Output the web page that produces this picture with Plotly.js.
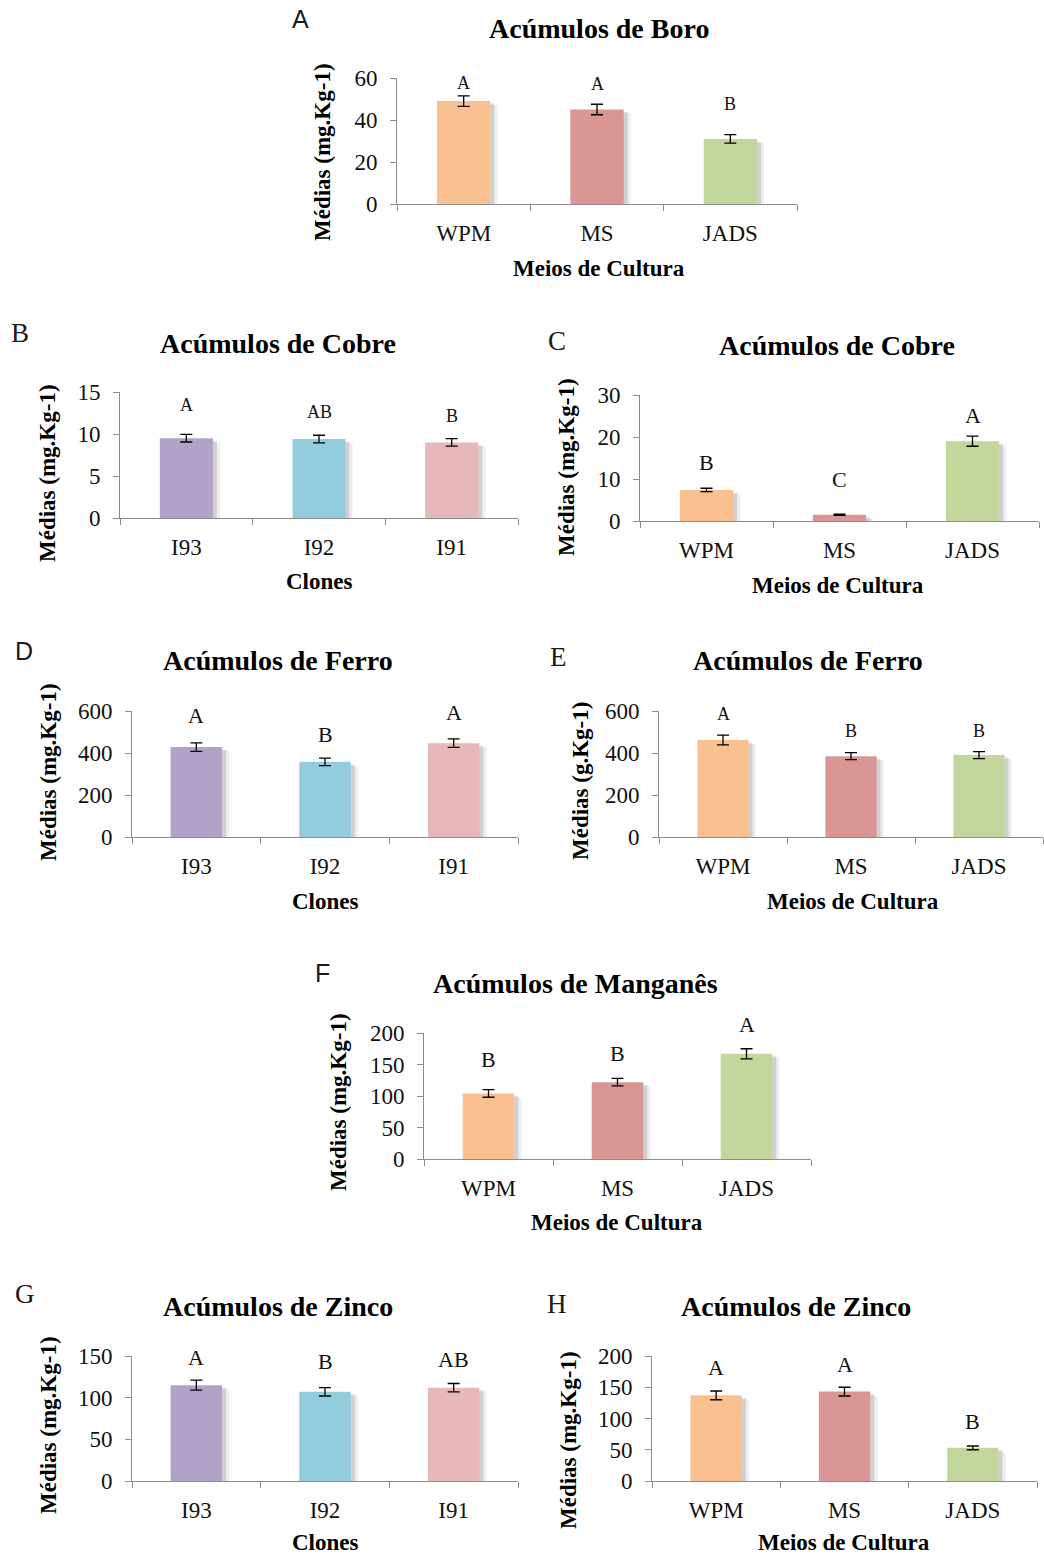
<!DOCTYPE html>
<html>
<head>
<meta charset="utf-8">
<script src="https://cdn.plot.ly/plotly-3.0.1.min.js"></script>
<style>html,body{margin:0;padding:0;background:#fff;}#chart{width:1044px;height:1555px;}</style>
</head>
<body>
<div id="chart"></div>
<script>
// ---------- DATA ----------
const mediaCats = ["WPM", "MS", "JADS"];
const cloneCats = ["I93", "I92", "I91"];
const mediaColors = ["#FAC090", "#D99694", "#C3D69B"];
const cloneColors = ["#B3A2C7", "#93CDDD", "#E6B9B8"];

// A - Boro por meio
const boroMeioVals = [49, 45, 31];
const boroMeioErr = [2.5, 2.5, 2];
const boroMeioLetters = ["A", "A", "B"];
const boroMeioLetterY = [57.5, 57, 47.5];

// B - Cobre por clone
const cobreCloneVals = [9.5, 9.4, 9.0];
const cobreCloneErr = [0.45, 0.45, 0.45];
const cobreCloneLetters = ["A", "AB", "B"];
const cobreCloneLetterY = [13.4, 12.6, 12.2];

// C - Cobre por meio
const cobreMeioVals = [7.4, 1.5, 19];
const cobreMeioErr = [0.4, 0.15, 1.2];
const cobreMeioLetters = ["B", "C", "A"];
const cobreMeioLetterY = [14, 9.8, 25];

// D - Ferro por clone
const ferroCloneVals = [428, 358, 447];
const ferroCloneErr = [20, 18, 20];
const ferroCloneLetters = ["A", "B", "A"];
const ferroCloneLetterY = [580, 490, 595];

// E - Ferro por meio
const ferroMeioVals = [462, 385, 390];
const ferroMeioErr = [23, 17, 17];
const ferroMeioLetters = ["A", "B", "B"];
const ferroMeioLetterY = [587, 505, 505];

// F - Manganês por meio
const mnMeioVals = [104, 122, 167];
const mnMeioErr = [6, 6, 8];
const mnMeioLetters = ["B", "B", "A"];
const mnMeioLetterY = [158, 168, 213];

// G - Zinco por clone
const znCloneVals = [115, 107, 112];
const znCloneErr = [6, 5, 5];
const znCloneLetters = ["A", "B", "AB"];
const znCloneLetterY = [148, 143, 146];

// H - Zinco por meio
const znMeioVals = [137, 143, 53];
const znMeioErr = [7, 7, 3];
const znMeioLetters = ["A", "A", "B"];
const znMeioLetterY = [182, 186, 96];

const titles = ["Acúmulos de Boro", "Acúmulos de Cobre", "Acúmulos de Cobre", "Acúmulos de Ferro",
  "Acúmulos de Ferro", "Acúmulos de Manganês", "Acúmulos de Zinco", "Acúmulos de Zinco"];
const yTitles = ["Médias (mg.Kg-1)", "Médias (mg.Kg-1)", "Médias (mg.Kg-1)", "Médias (mg.Kg-1)",
  "Médias (g.Kg-1)", "Médias (mg.Kg-1)", "Médias (mg.Kg-1)", "Médias (mg.Kg-1)"];
const xTitles = ["Meios de Cultura", "Clones", "Meios de Cultura", "Clones",
  "Meios de Cultura", "Meios de Cultura", "Clones", "Meios de Cultura"];
const panelLetters = ["A", "B", "C", "D", "E", "F", "G", "H"];

// ---------- LAYOUT GEOMETRY (pixels) ----------
const W = 1044, H = 1555;
const panels = [
  {cats: mediaCats, colors: mediaColors, vals: boroMeioVals, err: boroMeioErr, let: boroMeioLetters, letY: boroMeioLetterY,
   x0: 397, x1: 797, yT: 78, yB: 204, ymax: 60, dtick: 20, tc: [599, 28], ytc: [322, 152], xtc: [599, 268], pl: [300, 19], plSans: true, lf: 18},
  {cats: cloneCats, colors: cloneColors, vals: cobreCloneVals, err: cobreCloneErr, let: cobreCloneLetters, letY: cobreCloneLetterY,
   x0: 120, x1: 518, yT: 392, yB: 518, ymax: 15, dtick: 5, tc: [278, 343], ytc: [48, 473], xtc: [319, 582], pl: [20, 333], plSans: false, lf: 18},
  {cats: mediaCats, colors: mediaColors, vals: cobreMeioVals, err: cobreMeioErr, let: cobreMeioLetters, letY: cobreMeioLetterY,
   x0: 640, x1: 1039, yT: 395, yB: 521, ymax: 30, dtick: 10, tc: [837, 345], ytc: [566, 467], xtc: [838, 585], pl: [557, 341], plSans: false, lf: 22},
  {cats: cloneCats, colors: cloneColors, vals: ferroCloneVals, err: ferroCloneErr, let: ferroCloneLetters, letY: ferroCloneLetterY,
   x0: 132, x1: 518, yT: 711, yB: 837, ymax: 600, dtick: 200, tc: [278, 661], ytc: [48, 772], xtc: [325, 901], pl: [24, 651], plSans: true, lf: 22},
  {cats: mediaCats, colors: mediaColors, vals: ferroMeioVals, err: ferroMeioErr, let: ferroMeioLetters, letY: ferroMeioLetterY,
   x0: 659, x1: 1043, yT: 711, yB: 837, ymax: 600, dtick: 200, tc: [808, 661], ytc: [580, 781], xtc: [853, 901], pl: [558, 657], plSans: false, lf: 18},
  {cats: mediaCats, colors: mediaColors, vals: mnMeioVals, err: mnMeioErr, let: mnMeioLetters, letY: mnMeioLetterY,
   x0: 424, x1: 811, yT: 1033, yB: 1159, ymax: 200, dtick: 50, tc: [575, 983], ytc: [338, 1102], xtc: [617, 1222], pl: [322, 973], plSans: true, lf: 22},
  {cats: cloneCats, colors: cloneColors, vals: znCloneVals, err: znCloneErr, let: znCloneLetters, letY: znCloneLetterY,
   x0: 132, x1: 518, yT: 1356, yB: 1481, ymax: 150, dtick: 50, tc: [278, 1306], ytc: [48, 1425], xtc: [325, 1542], pl: [25, 1294], plSans: false, lf: 22},
  {cats: mediaCats, colors: mediaColors, vals: znMeioVals, err: znMeioErr, let: znMeioLetters, letY: znMeioLetterY,
   x0: 652, x1: 1037, yT: 1356, yB: 1481, ymax: 200, dtick: 50, tc: [796, 1306], ytc: [568, 1440], xtc: [844, 1542], pl: [557, 1304], plSans: false, lf: 22}
];

const SERIF = "Liberation Serif, Times New Roman, serif";
const SANS = "Liberation Sans, Arial, sans-serif";
const px = v => v / W;
const py = v => 1 - v / H;

const traces = [];
const layout = {
  width: W, height: H,
  margin: {l: 0, r: 0, t: 0, b: 0},
  paper_bgcolor: "#fff", plot_bgcolor: "rgba(0,0,0,0)",
  showlegend: false, barmode: "overlay",
  font: {family: SERIF, color: "#000"},
  annotations: []
};

const BW = 0.4;
panels.forEach((p, i) => {
  const n = i === 0 ? "" : String(i + 1);
  const xa = "x" + n, ya = "y" + n;
  const catPx = (p.x1 - p.x0) / 3;
  const unitPx = (p.yB - p.yT) / p.ymax;
  // soft shadow layers
  [[7, 4, 0.07], [4, 2.5, 0.12]].forEach(s => {
    traces.push({
      type: "bar", x: p.cats, y: p.vals, base: p.vals.map(() => -s[1] / unitPx),
      xaxis: xa, yaxis: ya, width: BW, offset: -BW / 2 + s[0] / catPx,
      marker: {color: "rgba(0,0,0," + s[2] + ")", line: {width: 0}}, hoverinfo: "skip"
    });
  });
  traces.push({
    type: "bar", x: p.cats, y: p.vals, xaxis: xa, yaxis: ya, width: BW, offset: -BW / 2,
    marker: {color: p.colors, line: {width: 0}},
    error_y: {type: "data", array: p.err, visible: true, color: "#000", thickness: 1.3, width: 6}
  });
  layout["xaxis" + n] = {
    domain: [px(p.x0), px(p.x1)], anchor: ya, type: "category", range: [-0.5, 2.5],
    showline: true, linecolor: "#8c8c8c", linewidth: 1, ticks: "outside", tickson: "boundaries",
    ticklen: 6, tickcolor: "#8c8c8c", showgrid: false, zeroline: false, fixedrange: true,
    tickfont: {family: SERIF, size: 23, color: "#111"}, ticklabelstandoff: 8
  };
  layout["yaxis" + n] = {
    domain: [py(p.yB), py(p.yT)], anchor: xa, range: [0, p.ymax], dtick: p.dtick, tick0: 0,
    showline: true, linecolor: "#8c8c8c", linewidth: 1, ticks: "outside", ticklen: 6, tickcolor: "#8c8c8c",
    showgrid: false, zeroline: false, fixedrange: true,
    tickfont: {family: SERIF, size: 23, color: "#111"}, ticklabelstandoff: 8
  };
  // significance letters (x on the category axis, y mapped through the axis domain so letters above the range still show)
  const d0 = py(p.yB), d1 = py(p.yT);
  p.let.forEach((l, k) => {
    layout.annotations.push({xref: xa, yref: "paper", x: p.cats[k], y: d0 + (p.letY[k] / p.ymax) * (d1 - d0),
      text: l, showarrow: false, xanchor: "center", yanchor: "middle",
      font: {family: SERIF, size: p.lf, color: "#111"}});
  });
  // titles
  layout.annotations.push({xref: "paper", yref: "paper", x: px(p.tc[0]), y: py(p.tc[1]), text: "<b>" + titles[i] + "</b>",
    showarrow: false, xanchor: "center", yanchor: "middle", font: {family: SERIF, size: 28, color: "#000"}});
  layout.annotations.push({xref: "paper", yref: "paper", x: px(p.xtc[0]), y: py(p.xtc[1]), text: "<b>" + xTitles[i] + "</b>",
    showarrow: false, xanchor: "center", yanchor: "middle", font: {family: SERIF, size: 23, color: "#000"}});
  layout.annotations.push({xref: "paper", yref: "paper", x: px(p.ytc[0]), y: py(p.ytc[1]), text: "<b>" + yTitles[i] + "</b>",
    showarrow: false, xanchor: "center", yanchor: "middle", textangle: -90, font: {family: SERIF, size: 23, color: "#000"}});
  layout.annotations.push({xref: "paper", yref: "paper", x: px(p.pl[0]), y: py(p.pl[1]), text: panelLetters[i],
    showarrow: false, xanchor: "center", yanchor: "middle",
    font: {family: p.plSans ? SANS : SERIF, size: p.plSans ? 25 : 27, color: "#1a1a1a"}});
});

Plotly.newPlot("chart", traces, layout, {displayModeBar: false, staticPlot: true});
</script>
</body>
</html>
